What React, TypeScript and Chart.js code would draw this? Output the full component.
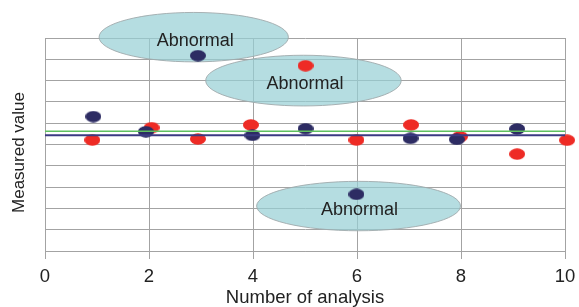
import React, { useEffect, useRef } from 'react';
import { Chart, registerables } from 'chart.js';

Chart.register(...registerables);

// ---- data ----
const xTickValues = [0, 2, 4, 6, 8, 10];
const navyX = [0.93, 1.94, 2.94, 3.99, 5.01, 5.99, 7.03, 7.92, 9.08];
const navyY = [6.31, 5.6, 9.17, 5.43, 5.74, 2.66, 5.29, 5.24, 5.73];
const redX = [0.91, 2.05, 2.94, 3.96, 5.01, 5.99, 7.04, 7.98, 9.08, 10.04];
const redY = [5.21, 5.79, 5.26, 5.92, 8.7, 5.21, 5.92, 5.37, 4.55, 5.2];
const lineX = [0, 10];
const greenLineY = [5.62, 5.62];
const navyLineY = [5.43, 5.43];

// "Abnormal" regions (data units)
const regionCX = [2.86, 4.97, 6.03];
const regionCY = [10.04, 8.0, 2.11];
const regionRX = [1.82, 1.88, 1.96];
const regionRY = [1.16, 1.19, 1.16];
const regionLabelX = [2.89, 5.0, 6.05];
const regionLabelY = [9.62, 7.59, 1.67];
const regionLabels = ['Abnormal', 'Abnormal', 'Abnormal'];

const xTitle = 'Number of analysis';
const yTitle = 'Measured value';

const FONT = "'Liberation Sans', Arial, sans-serif";

function makeDot(color: string): HTMLCanvasElement {
  const c = document.createElement('canvas');
  c.width = 16;
  c.height = 12;
  const ctx = c.getContext('2d')!;
  ctx.fillStyle = color;
  ctx.beginPath();
  ctx.ellipse(8, 6, 8, 5.8, 0, 0, Math.PI * 2);
  ctx.fill();
  return c;
}

export default function App() {
  const ref = useRef<HTMLCanvasElement | null>(null);

  useEffect(() => {
    if (!ref.current) return;
    const navyDot = makeDot('#2d2c63');
    const redDot = makeDot('#ee2b25');

    const regionsPlugin = {
      id: 'regions',
      beforeDatasetsDraw(chart: any) {
        const { ctx, scales } = chart;
        const xs = scales.x;
        const ys = scales.y;
        ctx.save();
        for (let i = 0; i < regionCX.length; i++) {
          const cx = xs.getPixelForValue(regionCX[i]);
          const cy = ys.getPixelForValue(regionCY[i]);
          const rx = Math.abs(xs.getPixelForValue(regionCX[i] + regionRX[i]) - cx);
          const ry = Math.abs(ys.getPixelForValue(regionCY[i] + regionRY[i]) - cy);
          ctx.beginPath();
          ctx.ellipse(cx, cy, rx, ry, 0, 0, Math.PI * 2);
          ctx.fillStyle = 'rgba(150, 206, 212, 0.7)';
          ctx.fill();
          ctx.lineWidth = 1;
          ctx.strokeStyle = 'rgba(160, 170, 172, 0.9)';
          ctx.stroke();
        }
        ctx.fillStyle = '#222222';
        ctx.font = `18px ${FONT}`;
        ctx.textAlign = 'center';
        ctx.textBaseline = 'alphabetic';
        for (let i = 0; i < regionLabels.length; i++) {
          ctx.fillText(
            regionLabels[i],
            xs.getPixelForValue(regionLabelX[i]),
            ys.getPixelForValue(regionLabelY[i])
          );
        }
        ctx.restore();
      },
      afterDraw(chart: any) {
        const { ctx } = chart;
        ctx.save();
        ctx.translate(19, 152.5);
        ctx.rotate(-Math.PI / 2);
        ctx.fillStyle = '#222222';
        ctx.font = `17px ${FONT}`;
        ctx.textAlign = 'center';
        ctx.textBaseline = 'middle';
        ctx.fillText(yTitle, 0, 0);
        ctx.restore();
      },
    };

    const chart = new Chart(ref.current, {
      type: 'scatter',
      data: {
        datasets: [
          {
            label: 'Mean A',
            type: 'line',
            data: lineX.map((x, i) => ({ x, y: greenLineY[i] })),
            borderColor: '#5fbf5f',
            borderWidth: 1.5,
            pointRadius: 0,
            order: 0,
          } as any,
          {
            label: 'Mean B',
            type: 'line',
            data: lineX.map((x, i) => ({ x, y: navyLineY[i] })),
            borderColor: '#3b3a82',
            borderWidth: 2,
            pointRadius: 0,
            order: 0,
          } as any,
          {
            label: 'Navy',
            data: navyX.map((x, i) => ({ x, y: navyY[i] })),
            pointStyle: navyDot,
            pointRadius: 8,
            clip: false,
            order: 1,
          } as any,
          {
            label: 'Red',
            data: redX.map((x, i) => ({ x, y: redY[i] })),
            pointStyle: redDot,
            pointRadius: 8,
            clip: false,
            order: 2,
          } as any,
        ],
      },
      options: {
        animation: false,
        responsive: false,
        events: [],
        layout: { padding: { top: 38, right: 14, left: 0, bottom: 0 } },
        plugins: {
          legend: { display: false },
          tooltip: { enabled: false },
        },
        scales: {
          x: {
            type: 'linear',
            min: 0,
            max: 10,
            afterBuildTicks: (scale: any) => {
              scale.ticks = xTickValues.map((v) => ({ value: v }));
            },
            afterFit: (scale: any) => {
              scale.height = 56;
              scale.paddingLeft = 0;
              scale.paddingRight = 0;
            },
            grid: {
              color: '#a3a3a3',
              lineWidth: 1,
              drawTicks: true,
              tickLength: 8,
              tickColor: '#a3a3a3',
            },
            border: { color: '#a3a3a3', width: 1 },
            ticks: {
              color: '#222222',
              padding: 7,
              font: { family: FONT, size: 18.5 },
              maxRotation: 0,
            },
            title: {
              display: true,
              text: xTitle,
              color: '#222222',
              font: { family: FONT, size: 18.5, lineHeight: 1 },
              padding: { top: 0, bottom: 0 },
            },
          },
          y: {
            type: 'linear',
            min: 0,
            max: 10,
            ticks: { stepSize: 1, display: false },
            afterFit: (scale: any) => {
              scale.width = 45;
            },
            grid: {
              color: '#a3a3a3',
              lineWidth: 1,
              drawTicks: false,
            },
            border: { color: '#a3a3a3', width: 1 },
            title: { display: false },
          },
        },
      } as any,
      plugins: [regionsPlugin],
    });

    return () => chart.destroy();
  }, []);

  return (
    <div style={{ position: 'fixed', left: 0, top: 0, width: 579, height: 307, background: '#ffffff' }}>
      <canvas ref={ref} width={579} height={307} style={{ display: 'block' }} />
    </div>
  );
}
